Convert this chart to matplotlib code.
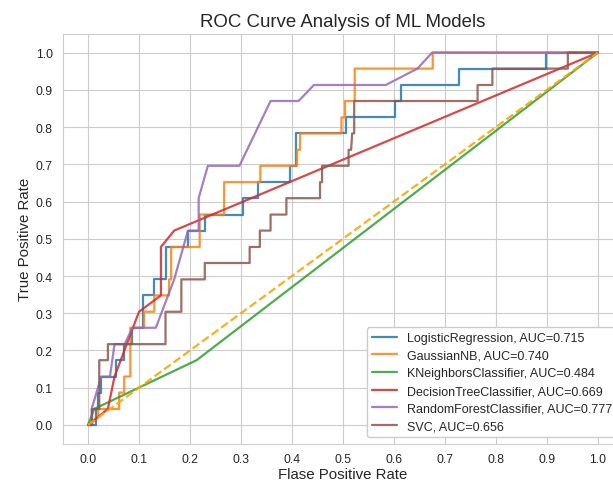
import matplotlib
matplotlib.use("Agg")
import matplotlib.pyplot as plt
import seaborn as sns

# ROC points (fpr, tpr)
lr_fpr = [0, 0.015, 0.015, 0.02, 0.02, 0.026, 0.026, 0.055, 0.055, 0.071, 0.071, 0.087, 0.087,
          0.107, 0.107, 0.130, 0.130, 0.153, 0.153, 0.196, 0.196, 0.229, 0.229, 0.304, 0.304,
          0.333, 0.333, 0.397, 0.397, 0.407, 0.407, 0.505, 0.505, 0.603, 0.603, 0.613, 0.613,
          0.728, 0.728, 0.898, 0.898, 1.0]
lr_tpr = [0, 0, 0.043, 0.043, 0.087, 0.087, 0.130, 0.130, 0.174, 0.174, 0.217, 0.217, 0.261,
          0.261, 0.348, 0.348, 0.391, 0.391, 0.478, 0.478, 0.522, 0.522, 0.565, 0.565, 0.609,
          0.609, 0.652, 0.652, 0.696, 0.696, 0.783, 0.783, 0.826, 0.826, 0.870, 0.870, 0.913,
          0.913, 0.957, 0.957, 1.0, 1.0]

nb_fpr = [0, 0.02, 0.02, 0.061, 0.061, 0.071, 0.071, 0.083, 0.083, 0.110, 0.110, 0.130, 0.130,
          0.159, 0.159, 0.163, 0.163, 0.219, 0.219, 0.267, 0.267, 0.338, 0.338, 0.410, 0.410,
          0.416, 0.416, 0.497, 0.497, 0.504, 0.504, 0.523, 0.523, 0.676, 0.676, 1.0]
nb_tpr = [0, 0.02, 0.043, 0.043, 0.087, 0.087, 0.130, 0.130, 0.261, 0.261, 0.304, 0.304, 0.348,
          0.348, 0.391, 0.391, 0.478, 0.478, 0.565, 0.565, 0.652, 0.652, 0.696, 0.696, 0.739,
          0.739, 0.783, 0.783, 0.826, 0.826, 0.870, 0.870, 0.957, 0.957, 1.0, 1.0]

knn_fpr = [0, 0.012, 0.213, 1.0]
knn_tpr = [0, 0.043, 0.174, 1.0]

dt_fpr = [0, 0.039, 0.052, 0.100, 0.143, 0.143, 0.169, 1.0]
dt_tpr = [0, 0.043, 0.130, 0.304, 0.348, 0.478, 0.522, 1.0]

rf_fpr = [0, 0.007, 0.007, 0.026, 0.043, 0.052, 0.072, 0.087, 0.133, 0.169, 0.196, 0.217,
          0.217, 0.235, 0.297, 0.358, 0.413, 0.443, 0.584, 0.646, 0.675, 1.0]
rf_tpr = [0, 0, 0.043, 0.130, 0.130, 0.217, 0.217, 0.261, 0.261, 0.391, 0.522, 0.522,
          0.609, 0.696, 0.696, 0.870, 0.870, 0.913, 0.913, 0.957, 1.0, 1.0]

svc_fpr = [0, 0.008, 0.008, 0.022, 0.022, 0.039, 0.039, 0.152, 0.152, 0.183, 0.183, 0.229,
           0.229, 0.317, 0.317, 0.337, 0.337, 0.358, 0.358, 0.389, 0.389, 0.455, 0.455, 0.459,
           0.459, 0.511, 0.511, 0.516, 0.518, 0.522, 0.522, 0.764, 0.764, 0.793, 0.793, 0.941,
           0.941, 1.0]
svc_tpr = [0, 0, 0.043, 0.043, 0.174, 0.174, 0.217, 0.217, 0.304, 0.304, 0.391, 0.391,
           0.435, 0.435, 0.478, 0.478, 0.522, 0.522, 0.565, 0.565, 0.609, 0.609, 0.652, 0.652,
           0.696, 0.696, 0.739, 0.739, 0.783, 0.783, 0.870, 0.870, 0.913, 0.913, 0.957, 0.957,
           1.0, 1.0]

models = ['LogisticRegression', 'GaussianNB', 'KNeighborsClassifier',
          'DecisionTreeClassifier', 'RandomForestClassifier', 'SVC']
aucs = [0.715, 0.740, 0.484, 0.669, 0.777, 0.656]
curves = [(lr_fpr, lr_tpr), (nb_fpr, nb_tpr), (knn_fpr, knn_tpr),
          (dt_fpr, dt_tpr), (rf_fpr, rf_tpr), (svc_fpr, svc_tpr)]

ticks = [i / 10 for i in range(11)]

sns.set_style("whitegrid")
plt.rcParams['font.family'] = ['Liberation Sans', 'DejaVu Sans']

fig = plt.figure(figsize=(6.13, 4.81), dpi=100)
ax = fig.add_axes([0.102, 0.0757, 0.915, 0.8516])

for name, auc, (fpr, tpr) in zip(models, aucs, curves):
    ax.plot(fpr, tpr, lw=1.6, alpha=0.85, label=f"{name}, AUC={auc:.3f}")

ax.plot([0, 1], [0, 1], color='orange', linestyle='--', lw=1.6, alpha=0.9)

ax.set_xlim(-0.05, 1.05)
ax.set_ylim(-0.05, 1.05)
ax.set_xticks(ticks)
ax.set_yticks(ticks)
ax.tick_params(labelsize=8.8, colors='.15')
ax.set_xlabel("Flase Positive Rate", fontsize=10.8, color='.15', labelpad=1)
ax.set_ylabel("True Positive Rate", fontsize=10.8, color='.15', labelpad=3)
ax.set_title("ROC Curve Analysis of ML Models", fontsize=13.4, color='.15')
ax.legend(loc='lower right', fontsize=9, labelspacing=0.45, framealpha=1)

fig.savefig("out.png", dpi=100)
